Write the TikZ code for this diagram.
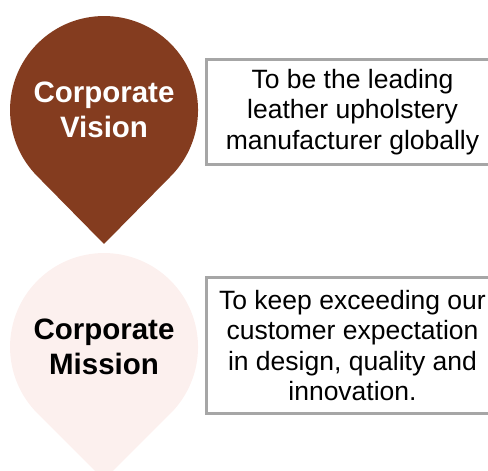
\documentclass[tikz,border=0pt]{standalone}
\usepackage{fontspec}
\setmainfont{Liberation Sans}
\usepackage{xcolor}
\usetikzlibrary{positioning}
\definecolor{visionbrown}{HTML}{843C1F}
\definecolor{missionpink}{HTML}{FCF0EE}
\definecolor{boxgray}{HTML}{A6A6A6}
\tikzset{
  droptext/.style={align=center,font=\fontsize{29.5}{35}\selectfont\bfseries},
  statement/.style={draw=boxgray,line width=3pt,fill=white,align=center,
    minimum width=293pt,inner sep=0pt,anchor=west,
    font=\fontsize{26.5}{30.5}\selectfont}
}

\begin{document}
\begin{tikzpicture}[x=1pt,y=1pt]
	\clip (0,0) rectangle (488,471);
	\useasboundingbox (0,0) rectangle (488,471);
	% vision drop
	\fill[visionbrown] (104,227) -- (170.5,294.5) arc[start angle=-45,end angle=225,radius=94] -- cycle;
	\node[droptext,text=white] (vision) at (104,361) {Corporate\\Vision};
	% mission drop
	\fill[missionpink] (104,-9) -- (170.5,57.5) arc[start angle=-45,end angle=225,radius=94] -- cycle;
	\node[droptext] (mission) at (104,124) {Corporate\\Mission};
	% statements
	\node[statement,minimum height=105pt] (visiontext) at (204.5,359) {To be the leading\\leather upholstery\\manufacturer globally};
	\node[statement,minimum height=136pt] (missiontext) at (204.5,125.5) {To keep exceeding our\\customer expectation\\in design, quality and\\innovation.};
\end{tikzpicture}
\end{document}
